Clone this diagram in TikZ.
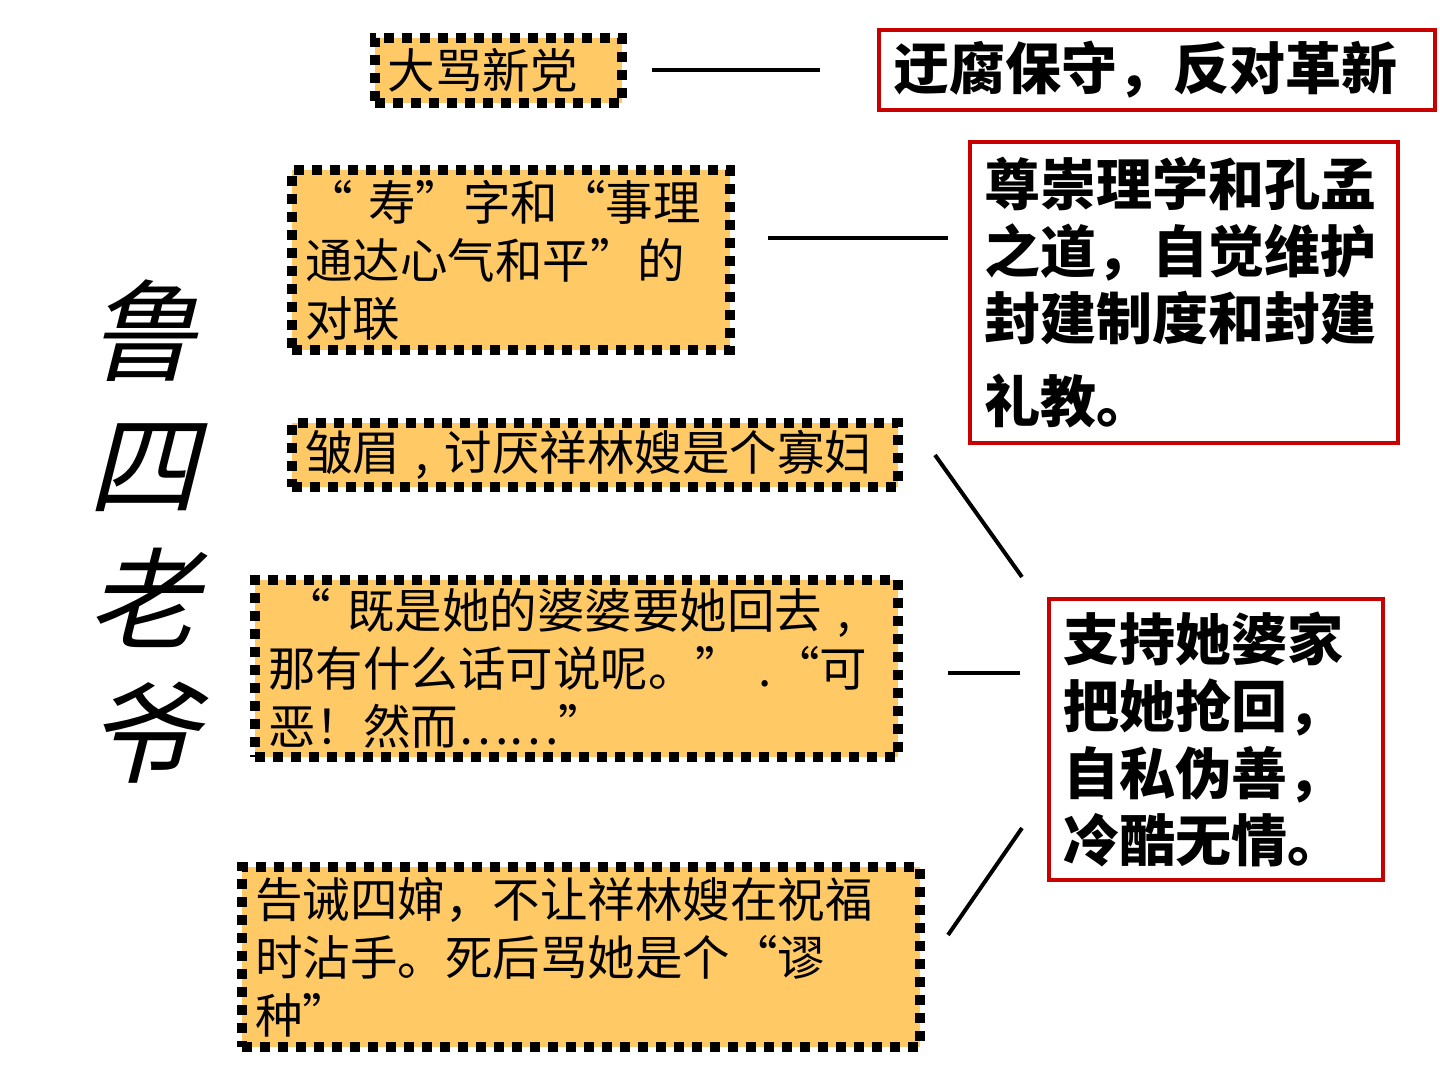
\documentclass[tikz,border=0pt]{standalone}
\usepackage{fontspec}
\usetikzlibrary{calc}
\newfontfamily\cjk{Noto Sans CJK SC}
\newfontfamily\cjkslant[FakeSlant=0.25]{Noto Sans CJK SC}
\definecolor{boxfill}{RGB}{255,201,102}
\definecolor{boxred}{RGB}{200,0,0}
\tikzset{
  quotebox/.style={draw=black, fill=boxfill, line width=10pt, dash pattern=on 10pt off 8pt,
    align=left, inner xsep=13pt, inner ysep=0pt, font=\cjk\fontsize{47.5}{58}\selectfont},
  judgebox/.style={draw=boxred, line width=4pt, align=left, inner xsep=14pt, inner ysep=0pt,
    font=\cjk\bfseries\fontsize{56}{67}\selectfont},
  link/.style={line width=4pt}
}
\begin{document}
\begin{tikzpicture}[x=1pt,y=-1pt]
\useasboundingbox[fill=white] (0,0) rectangle (1440,1080);
% title
\node[font=\cjkslant\fontsize{110}{134}\selectfont, align=center] (title) at (142,532) {鲁\\四\\老\\爷};
% facts about him
\node[quotebox, minimum width=247, minimum height=65, text width=221] (dama) at (498,70) {大骂新党};
\node[quotebox, minimum width=438, minimum height=180, text width=412] (shouzi) at (511,260)
  {“ 寿”字和“事理\\通达心气和平”的\\对联};
\node[quotebox, minimum width=606, minimum height=64, text width=580] (zhoumei) at (595,455)
  {皱眉 , 讨厌祥林嫂是个寡妇};
\node[quotebox, minimum width=643, minimum height=177, text width=617] (jishi) at (576.5,668.5)
  {\ “ 既是她的婆婆要她回去 ,\\那有什么话可说呢。” .“可\\恶！然而……”};
\node[quotebox, minimum width=678, minimum height=180, text width=652] (gaojie) at (581,957)
  {告诫四婶，不让祥林嫂在祝福\\时沾手。死后骂她是个“谬\\种”};
% what they show
\node[judgebox, minimum width=556, minimum height=80, text width=528] (yufu) at (1157,70)
  {迂腐保守，反对革新};
\node[judgebox, minimum width=428, minimum height=301, text width=400] (zunchong) at (1184,292.5)
  {尊崇理学和孔孟\\\mbox{之道，自觉维护}\\封建制度和封建\\[16pt]礼教。};
\node[judgebox, minimum width=334, minimum height=281, text width=306] (zhichi) at (1216,739.5)
  {支持她婆家\\把她抢回，\\自私伪善，\\冷酷无情。};
% links
\draw[link, shorten <=25pt, shorten >=57pt] (dama.east) -- (yufu.west |- dama.east);
\draw[link, shorten <=33pt, shorten >=20pt] (shouzi.east |- 0,238) -- (zunchong.west |- 0,238);
\draw[link] ($(zhoumei.east)+(32,0)$) -- ($(zhichi.north west)+(-25,-20)$);
\draw[link] ($(jishi.east)+(45,4)$) -- ($(zhichi.west |- jishi.east)+(-27,4)$);
\draw[link] ($(gaojie.east)+(23,-22)$) -- ($(zhichi.south west)+(-25,-54)$);
\end{tikzpicture}
\end{document}
